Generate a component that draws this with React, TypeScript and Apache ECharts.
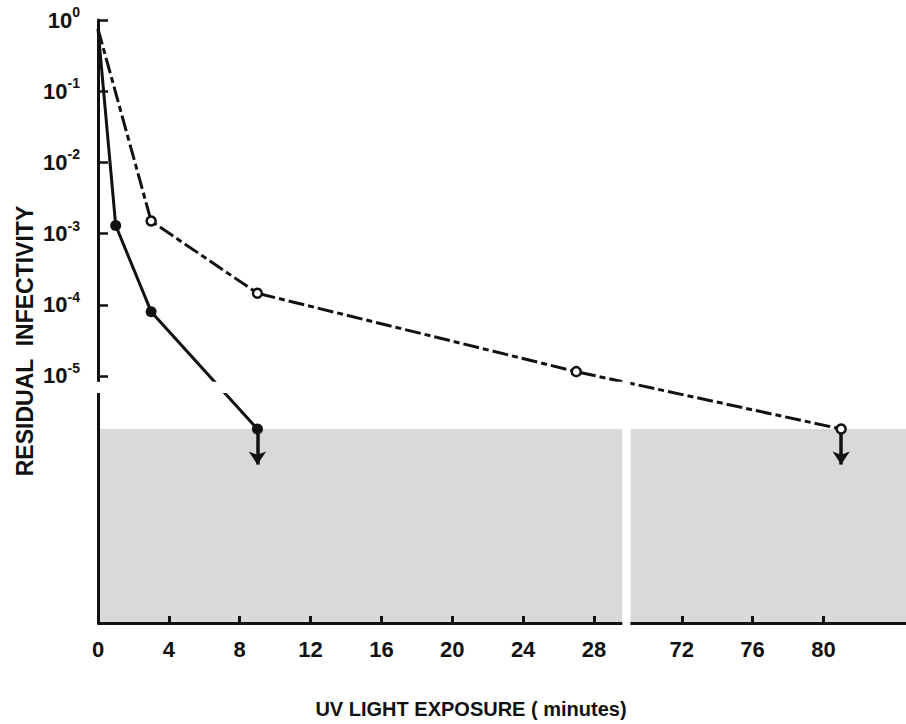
import React, { useEffect, useRef } from "react";
import * as echarts from "echarts";

// ---- data (minutes, residual infectivity) ----
const filledX = [0, 1, 3, 9];
const filledY = [0.75, 1.3e-3, 8e-5, 1.8e-6];
const openX = [0, 3, 9, 27, 81];
const openY = [0.75, 1.5e-3, 1.45e-4, 1.15e-5, 1.8e-6];
const detectionLimit = 1.8e-6;
const filledBelowLimitAt = [9];
const openBelowLimitAt = [81];

// ---- axes ----
const xTickLabels = [0, 4, 8, 12, 16, 20, 24, 28, 72, 76, 80];
const xBreakStart = 29.6;
const xBreakEnd = 69.1;
const xMax = 84.66;
const yTickExponents = [0, -1, -2, -3, -4, -5];
const yMinLog = -8.47;
const yBreakFrom = -5.08;
const yBreakTo = -5.24;

const xTitle = "UV LIGHT EXPOSURE ( minutes)";
const yTitle = "RESIDUAL  INFECTIVITY";

const FONT = "'Liberation Sans', Arial, sans-serif";
const INK = "#111";

const lg = (v: number) => Math.log10(v);

export default function App() {
  const ref = useRef<HTMLDivElement>(null);
  useEffect(() => {
    if (!ref.current) return;
    const chart = echarts.init(ref.current, undefined, { renderer: "svg" });
    const dl = lg(detectionLimit);
    const toData = (xs: number[], ys: number[]) =>
      xs.map((x, i) =>
        i === 0
          ? { value: [x, lg(ys[i])], symbol: "none" }
          : { value: [x, lg(ys[i])] }
      );
    const arrows = (xs: number[]) =>
      xs.map((x) => [
        { coord: [x, dl - 0.06] },
        { coord: [x, dl - 0.5] },
      ]);
    const markLineStyle = {
      silent: true,
      symbol: ["none", "arrow"],
      symbolSize: 13,
      label: { show: false },
      lineStyle: { color: INK, width: 3.5, type: "solid" },
      itemStyle: { color: INK },
    };
    chart.setOption({
      animation: false,
      backgroundColor: "#fff",
      grid: { left: 98, right: 0, top: 20, bottom: 101, containLabel: false },
      xAxis: {
        type: "value",
        z: 10,
        min: 0,
        max: xMax,
        breaks: [{ start: xBreakStart, end: xBreakEnd, gap: "1%" }],
        breakArea: { show: false },
        axisLine: { show: true, onZero: false, lineStyle: { color: INK, width: 3 } },
        axisTick: {
          show: true,
          inside: true,
          length: 7,
          customValues: xTickLabels.filter((v) => v !== 0),
          lineStyle: { color: INK, width: 3 },
        },
        axisLabel: {
          customValues: xTickLabels,
          color: INK,
          fontFamily: FONT,
          fontWeight: "bold",
          fontSize: 22,
          margin: 15,
        },
        splitLine: { show: false },
      },
      yAxis: {
        type: "value",
        z: 10,
        min: yMinLog,
        max: 0,
        axisLine: { show: true, onZero: false, lineStyle: { color: INK, width: 3 } },
        axisTick: {
          show: true,
          inside: true,
          length: 10,
          customValues: yTickExponents,
          lineStyle: { color: INK, width: 2.5 },
        },
        axisLabel: {
          customValues: yTickExponents,
          margin: 18,
          formatter: (v: number) => `{b|10}{e|${Math.round(v)}}`,
          rich: {
            b: {
              fontFamily: FONT,
              fontWeight: "bold",
              fontSize: 22,
              lineHeight: 30,
              color: INK,
            },
            e: {
              fontFamily: FONT,
              fontWeight: "bold",
              fontSize: 14,
              lineHeight: 12,
              verticalAlign: "top",
              color: INK,
            },
          },
        },
        splitLine: { show: false },
      },
      series: [
        {
          name: "filled",
          type: "line",
          data: toData(filledX, filledY),
          symbol: "circle",
          symbolSize: 11,
          itemStyle: { color: INK },
          lineStyle: { color: INK, width: 3 },
          z: 3,
          markLine: { ...markLineStyle, data: arrows(filledBelowLimitAt) },
          markArea: {
            silent: true,
            itemStyle: { color: "#d9d9d9" },
            data: [
              [
                { xAxis: 0, yAxis: dl },
                { xAxis: xBreakStart, yAxis: yMinLog },
              ],
              [
                { xAxis: xBreakEnd, yAxis: dl },
                { xAxis: xMax, yAxis: yMinLog },
              ],
            ],
          },
        },
        {
          name: "open",
          type: "line",
          data: toData(openX, openY),
          symbol: "circle",
          symbolSize: 9,
          itemStyle: { color: "#fff", borderColor: INK, borderWidth: 2.5 },
          lineStyle: { color: INK, width: 3, type: [16, 4, 6, 4] },
          z: 4,
          markLine: { ...markLineStyle, data: arrows(openBelowLimitAt) },
        },
      ],
    });

    // white strips marking the axis breaks
    const xa = chart.convertToPixel({ xAxisIndex: 0 }, xBreakStart) as number;
    const xb = chart.convertToPixel({ xAxisIndex: 0 }, xBreakEnd) as number;
    const ya = chart.convertToPixel({ yAxisIndex: 0 }, yBreakFrom) as number;
    const yb = chart.convertToPixel({ yAxisIndex: 0 }, yBreakTo) as number;
    const y0 = chart.convertToPixel({ yAxisIndex: 0 }, 0) as number;
    const yBottom = chart.convertToPixel({ yAxisIndex: 0 }, yMinLog) as number;
    const x0 = chart.convertToPixel({ xAxisIndex: 0 }, 0) as number;
    chart.setOption({
      graphic: [
        {
          type: "rect",
          z: 100,
          silent: true,
          shape: { x: xa, y: y0 - 5, width: Math.max(xb - xa, 0), height: yBottom - y0 + 10 },
          style: { fill: "#fff" },
        },
        {
          type: "rect",
          z: 100,
          silent: true,
          shape: { x: x0 - 6, y: ya, width: xa - x0 + 6, height: yb - ya },
          style: { fill: "#fff" },
        },
        {
          type: "text",
          z: 101,
          x: 471,
          y: 709,
          style: {
            text: xTitle,
            fill: INK,
            font: `bold 20px ${FONT}`,
            textAlign: "center",
            textVerticalAlign: "middle",
          },
        },
        {
          type: "text",
          z: 101,
          x: 25,
          y: 341,
          rotation: Math.PI / 2,
          style: {
            text: yTitle,
            fill: INK,
            font: `bold 23px ${FONT}`,
            textAlign: "center",
            textVerticalAlign: "middle",
          },
        },
      ],
    });
    return () => chart.dispose();
  }, []);
  return (
    <div
      ref={ref}
      style={{ position: "fixed", left: 0, top: 0, width: 906, height: 724 }}
    />
  );
}
